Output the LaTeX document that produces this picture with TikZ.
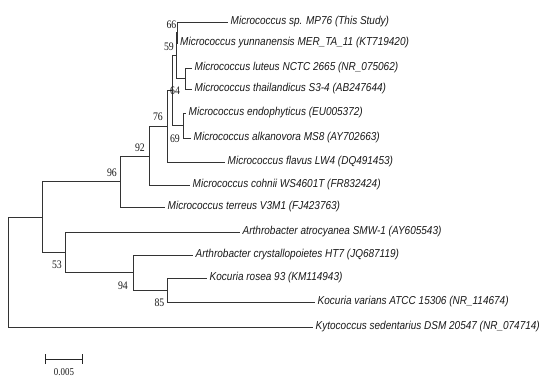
\documentclass[tikz,border=0pt]{standalone}
\usepackage{fontspec}
\setmainfont{Liberation Serif}
\newfontfamily\leaffont[FakeStretch=0.87]{Liberation Sans}
\newfontfamily\bsfont[FakeStretch=0.85]{Liberation Serif}
\usetikzlibrary{calc,positioning,arrows.meta}
\tikzset{%
    leaf/.style={%
        anchor=west, inner xsep=2.5pt, inner ysep=0pt, text=black!90,
        font=\leaffont\itshape\fontsize{11.5}{12}\selectfont
    },
    bootstrap/.style={%
        inner sep=0pt, text=black!90, font=\bsfont\fontsize{11.5}{12}\selectfont
    },
    branch/.style={%
        draw=black!80, line width=1pt
    },
    scalebar/.style={%
        {Bar[width=10pt]}-{Bar[width=10pt]}, draw=black!85, line width=1pt
    },
}

\begin{document}
\begin{tikzpicture}[x=1pt,y=-1pt]
  \useasboundingbox (0,0) rectangle (550,389);

  % leaves
  \node[leaf] (mp76)   at (228,22)  {Micrococcus sp. MP76 (This Study)};
  \node[leaf] (yunn)   at (177.5,43) {Micrococcus yunnanensis MER\_TA\_11 (KT719420)};
  \node[leaf] (luteus) at (192,68)  {Micrococcus luteus NCTC 2665 (NR\_075062)};
  \node[leaf] (thail)  at (192,89)  {Micrococcus thailandicus S3-4 (AB247644)};
  \node[leaf] (endo)   at (186,113) {Micrococcus endophyticus (EU005372)};
  \node[leaf] (alkano) at (191,138) {Micrococcus alkanovora MS8 (AY702663)};
  \node[leaf] (flavus) at (225,162) {Micrococcus flavus LW4 (DQ491453)};
  \node[leaf] (cohnii) at (190,185) {Micrococcus cohnii WS4601T (FR832424)};
  \node[leaf] (terreus) at (165,207) {Micrococcus terreus V3M1 (FJ423763)};
  \node[leaf] (atro)   at (240,232) {Arthrobacter atrocyanea SMW-1 (AY605543)};
  \node[leaf] (crystal) at (193,255) {Arthrobacter crystallopoietes HT7 (JQ687119)};
  \node[leaf] (rosea)  at (207,278) {Kocuria rosea 93 (KM114943)};
  \node[leaf] (varians) at (315,302) {Kocuria varians ATCC 15306 (NR\_114674)};
  \node[leaf] (kyto)   at (313,327) {Kytococcus sedentarius DSM 20547 (NR\_074714)};

  % inner nodes
  \coordinate (n66) at (177,32.5);
  \coordinate (nlt) at (185,78.5);
  \coordinate (n59) at (176,55.5);
  \coordinate (n69) at (183,125.5);
  \coordinate (n64) at (172,90.5);
  \coordinate (n76) at (167,126.5);
  \coordinate (n92) at (149,156);
  \coordinate (n96) at (120,181.5);
  \coordinate (n85) at (167,290);
  \coordinate (n94) at (133,272.5);
  \coordinate (n53) at (65,252);
  \coordinate (na)  at (42,217);
  \coordinate (root) at (8,272);

  % branches
  \draw[branch] (n66) |- (mp76) (n66) |- (yunn);
  \draw[branch] (nlt) |- (luteus) (nlt) |- (thail);
  \draw[branch] (n59) |- (n66) (n59) |- (nlt);
  \draw[branch] (n69) |- (endo) (n69) |- (alkano);
  \draw[branch] (n64) |- (n59) (n64) |- (n69);
  \draw[branch] (n76) |- (n64) (n76) |- (flavus);
  \draw[branch] (n92) |- (n76) (n92) |- (cohnii);
  \draw[branch] (n96) |- (n92) (n96) |- (terreus);
  \draw[branch] (n85) |- (rosea) (n85) |- (varians);
  \draw[branch] (n94) |- (crystal) (n94) |- (n85);
  \draw[branch] (n53) |- (atro) (n53) |- (n94);
  \draw[branch] (na) |- (n96) (na) |- (n53);
  \draw[branch] (root) |- (na) (root) |- (kyto);

  % bootstrap values
  \node[bootstrap, above left=4pt and 0.5pt of n66] {66};
  \node[bootstrap, above left=5pt and 2pt of n59] {59};
  \node[bootstrap, right=-2pt of n64] {64};
  \node[bootstrap, below left=9pt and 3pt of n69] {69};
  \node[bootstrap, above left=6pt and 4pt of n76] {76};
  \node[bootstrap, above left=4pt and 4pt of n92] {92};
  \node[bootstrap, above left=4.5pt and 3pt of n96] {96};
  \node[bootstrap, below left=9pt and 3pt of n53] {53};
  \node[bootstrap, below left=9.5pt and 5pt of n94] {94};
  \node[bootstrap, below left=8.5pt and 2.5pt of n85] {85};

  % scale
  \coordinate (sbl) at (45,359);
  \coordinate (sbr) at (83,359);
  \draw[scalebar] (sbl) -- (sbr);
  \node[bootstrap, font=\bsfont\fontsize{10.5}{11}\selectfont, below=9pt of $(sbl)!0.5!(sbr)$] (sblabel) {0.005};
\end{tikzpicture}
\end{document}
